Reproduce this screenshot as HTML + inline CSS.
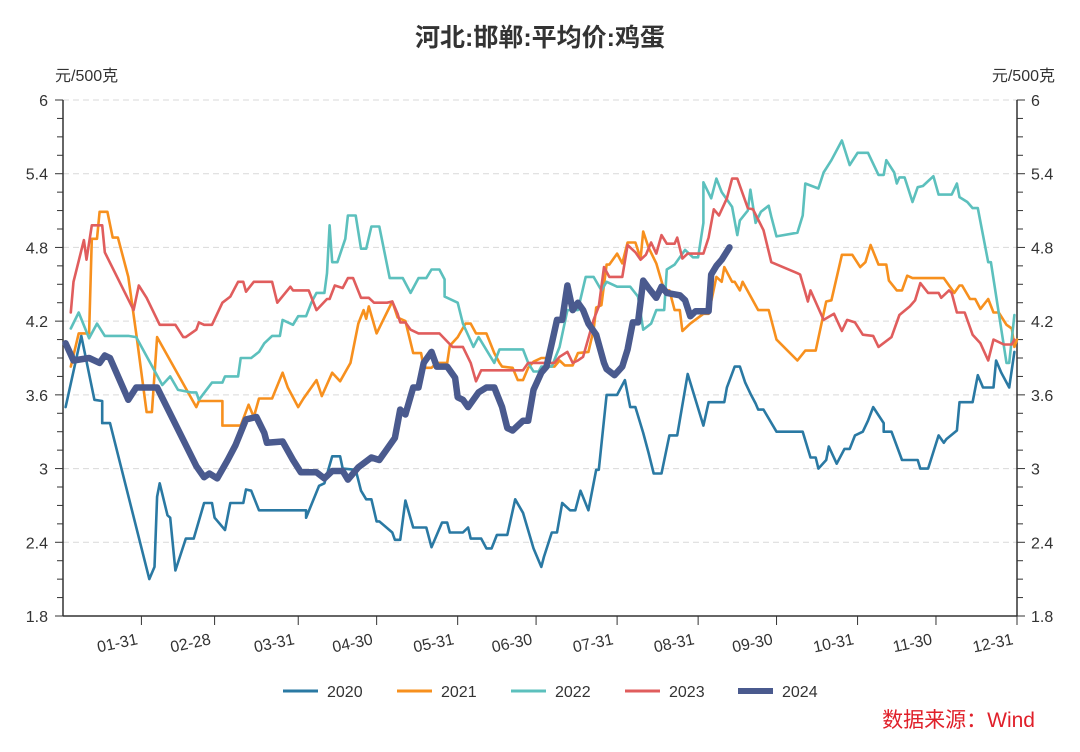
<!DOCTYPE html>
<html><head><meta charset="utf-8">
<style>
body{margin:0;background:#fff;}
svg{display:block;font-family:"Liberation Sans","Noto Sans CJK SC",sans-serif;}
</style></head>
<body>
<svg id="chart" width="1080" height="752"></svg>
<script>
const yearLabels=["2020","2021","2022","2023","2024"];
const yTicks=[1.8,2.4,3,3.6,4.2,4.8,5.4,6];
const xTickDays=[30,58,90,120,151,181,212,243,273,304,334,365];
const xTickLabels=["01-31","02-28","03-31","04-30","05-31","06-30","07-31","08-31","09-30","10-31","11-30","12-31"];

const d2020=[1,7,12,15,15,18,33,35,36,37,40,41,43,47,50,54,57,58,62,64,69,70,72,75,93,93,98,100,103,106,107,112,114,116,118,120,121,126,127,129,131,134,139,141,145,147,148,153,155,156,160,162,164,166,170,173,176,180,183,184,187,189,191,194,196,198,201,204,205,208,212,215,217,219,222,224,226,229,232,235,239,245,247,253,254,257,259,261,263,265,266,268,273,283,286,288,289,292,293,296,299,301,303,306,308,310,314,314,317,321,327,328,331,335,337,338,342,343,348,350,352,356,357,359,362,364];
const v2020=[3.5,4.08,3.56,3.55,3.37,3.37,2.1,2.2,2.77,2.88,2.62,2.6,2.17,2.43,2.43,2.72,2.72,2.6,2.5,2.72,2.72,2.83,2.82,2.66,2.66,2.6,2.86,2.88,3.1,3.1,3.0,2.99,2.82,2.75,2.75,2.57,2.57,2.48,2.42,2.42,2.74,2.52,2.52,2.36,2.56,2.56,2.48,2.48,2.52,2.43,2.43,2.35,2.35,2.46,2.46,2.75,2.64,2.35,2.2,2.28,2.48,2.48,2.72,2.66,2.66,2.82,2.66,2.99,2.99,3.6,3.6,3.72,3.5,3.5,3.29,3.13,2.96,2.96,3.27,3.27,3.77,3.35,3.54,3.54,3.66,3.83,3.83,3.7,3.61,3.53,3.48,3.48,3.3,3.3,3.09,3.09,3.0,3.07,3.18,3.04,3.16,3.16,3.27,3.3,3.39,3.5,3.37,3.3,3.3,3.07,3.07,3.0,3.0,3.27,3.21,3.24,3.31,3.54,3.54,3.76,3.66,3.66,3.88,3.78,3.66,3.95];

const d2021=[3,6,10,11,13,14,17,19,21,25,28,32,34,36,51,52,61,61,68,71,73,75,80,84,86,90,92,97,99,103,106,110,113,115,116,117,120,126,128,131,134,137,138,141,143,147,148,151,154,156,158,162,165,167,168,172,174,176,178,180,183,185,186,188,190,192,195,197,201,203,204,206,208,209,212,214,216,219,221,222,224,227,230,232,234,236,237,240,245,247,250,252,253,256,257,259,260,266,270,273,281,284,288,292,294,298,302,305,307,309,312,315,316,319,321,323,325,328,337,341,343,344,347,349,351,354,356,358,361,363,364,365];
const v2021=[3.83,4.1,4.1,4.87,4.87,5.09,5.09,4.88,4.88,4.56,4.1,3.46,3.46,4.07,3.5,3.55,3.55,3.35,3.35,3.52,3.42,3.57,3.57,3.78,3.66,3.5,3.57,3.72,3.59,3.78,3.71,3.86,4.18,4.29,4.22,4.32,4.1,4.36,4.23,4.2,3.94,3.94,3.82,3.82,3.86,3.86,4.0,4.07,4.18,4.18,4.1,4.1,3.94,3.86,3.83,3.82,3.72,3.72,3.82,3.87,3.9,3.9,3.83,3.83,3.88,3.84,3.84,3.94,3.95,4.13,4.31,4.33,4.66,4.66,4.75,4.67,4.84,4.84,4.71,4.93,4.8,4.67,4.45,4.45,4.29,4.29,4.12,4.18,4.26,4.26,4.56,4.52,4.64,4.52,4.52,4.45,4.52,4.29,4.29,4.05,3.88,3.96,3.96,4.36,4.37,4.74,4.74,4.64,4.68,4.82,4.66,4.66,4.53,4.45,4.45,4.57,4.55,4.55,4.55,4.43,4.49,4.49,4.38,4.38,4.3,4.38,4.27,4.27,4.17,4.14,3.99,4.05];

const d2022=[3,6,10,13,16,23,25,28,38,41,44,49,51,52,57,61,62,67,68,72,75,77,80,83,84,88,90,93,95,97,100,101,102,103,105,108,109,112,114,116,118,119,121,125,130,133,136,139,141,144,146,146,151,153,157,159,165,167,176,178,180,182,183,187,190,193,197,200,203,206,208,212,217,220,222,225,227,230,231,234,238,241,243,245,245,248,250,252,256,258,259,262,263,265,267,270,271,273,281,283,284,289,291,294,298,301,304,308,312,314,315,318,319,320,322,325,327,329,333,335,340,342,343,346,348,350,354,355,361,362,364];
const v2022=[4.14,4.27,4.06,4.18,4.08,4.08,4.08,4.07,3.68,3.75,3.64,3.62,3.62,3.56,3.7,3.7,3.75,3.75,3.9,3.9,3.95,4.02,4.08,4.08,4.21,4.17,4.24,4.24,4.35,4.43,4.43,4.59,4.98,4.68,4.68,4.87,5.06,5.06,4.79,4.79,4.97,4.97,4.97,4.55,4.55,4.43,4.55,4.55,4.62,4.62,4.54,4.4,4.35,4.18,3.99,4.07,3.86,3.97,3.97,3.86,3.79,3.79,3.83,3.83,3.99,4.29,4.29,4.56,4.56,4.45,4.52,4.48,4.48,4.4,4.13,4.18,4.29,4.29,4.62,4.66,4.78,4.72,4.72,5.0,5.33,5.2,5.36,5.25,5.13,4.9,5.02,5.1,5.27,5.0,5.09,5.14,5.05,4.89,4.92,5.06,5.32,5.28,5.41,5.51,5.67,5.47,5.57,5.57,5.39,5.39,5.51,5.41,5.32,5.37,5.37,5.17,5.29,5.3,5.38,5.23,5.23,5.32,5.21,5.17,5.12,5.12,4.68,4.68,3.86,3.86,4.25];

const d2023=[3,4,8,9,11,15,16,27,29,32,37,43,46,47,51,52,54,57,61,64,67,69,70,73,80,82,87,88,94,97,101,102,104,107,109,111,114,117,119,124,126,128,129,131,133,136,144,149,153,156,158,160,172,176,178,188,190,193,195,197,199,203,205,207,209,214,216,219,221,223,225,227,229,231,234,235,237,239,244,245,247,249,251,254,256,258,262,264,268,271,281,282,285,286,291,295,298,300,303,306,310,312,317,320,324,326,328,331,335,336,339,340,342,345,348,351,354,356,360,363,364];
const v2023=[4.27,4.52,4.86,4.7,4.98,4.98,4.76,4.29,4.49,4.39,4.17,4.17,4.07,4.07,4.13,4.19,4.17,4.17,4.35,4.4,4.52,4.52,4.44,4.52,4.52,4.35,4.48,4.45,4.45,4.29,4.38,4.38,4.49,4.47,4.55,4.55,4.39,4.39,4.35,4.35,4.36,4.26,4.19,4.19,4.13,4.1,4.1,3.99,3.99,3.86,3.71,3.8,3.8,3.8,3.86,3.86,3.91,3.95,3.86,3.88,3.91,4.21,4.32,4.64,4.56,4.56,4.82,4.76,4.7,4.74,4.84,4.75,4.9,4.83,4.83,4.88,4.71,4.75,4.75,4.75,4.88,5.11,5.06,5.2,5.36,5.36,5.12,5.11,4.94,4.68,4.59,4.58,4.36,4.45,4.21,4.26,4.12,4.21,4.19,4.09,4.08,3.99,4.07,4.25,4.32,4.37,4.51,4.43,4.43,4.39,4.45,4.43,4.27,4.27,4.09,4.02,3.88,4.05,4.01,4.01,4.05];

const d2024=[1,4,10,14,16,18,25,28,36,51,54,56,59,63,66,70,74,77,78,84,88,91,97,100,103,107,109,113,118,121,127,129,131,134,136,138,141,143,147,150,151,153,155,159,162,165,168,170,172,176,178,180,183,185,187,189,191,193,195,197,199,201,204,207,208,211,214,216,218,220,222,224,227,229,231,236,238,240,242,244,247,248,250,252,255];
const v2024=[4.02,3.88,3.9,3.86,3.92,3.9,3.56,3.66,3.66,3.02,2.93,2.96,2.92,3.07,3.19,3.4,3.42,3.29,3.21,3.22,3.07,2.97,2.97,2.92,2.98,2.98,2.91,3.01,3.09,3.07,3.25,3.48,3.44,3.66,3.66,3.86,3.95,3.83,3.83,3.74,3.58,3.56,3.5,3.62,3.66,3.66,3.5,3.33,3.31,3.39,3.39,3.64,3.78,3.83,4.02,4.21,4.21,4.49,4.29,4.35,4.29,4.18,4.09,3.86,3.81,3.76,3.83,3.97,4.19,4.19,4.53,4.47,4.39,4.48,4.43,4.41,4.37,4.24,4.28,4.28,4.28,4.58,4.65,4.7,4.8];

const days=[d2020,d2021,d2022,d2023,d2024];
const vals=[v2020,v2021,v2022,v2023,v2024];
const colors=["#2a79a3","#f7901e","#5cc0bd","#e05d5d","#4a5a8e"];
const widths=[2.6,2.6,2.6,2.6,6.5];

const NS="http://www.w3.org/2000/svg";
const svg=document.getElementById("chart");
const L=63,R=1017,T=100,B=616;
const xS=d=>L+d*(R-L)/365;
const yS=v=>B-(v-1.8)*(B-T)/4.2;
function mk(tag,attrs,parent){const e=document.createElementNS(NS,tag);for(const k in attrs)e.setAttribute(k,attrs[k]);(parent||svg).appendChild(e);return e;}

let t=mk("text",{x:540,y:46,"text-anchor":"middle","font-size":25,"font-weight":"bold",fill:"#333"});
t.textContent="河北:邯郸:平均价:鸡蛋";


t=mk("text",{x:55,y:81,"text-anchor":"start","font-size":16,fill:"#333"});t.textContent="元/500克";


t=mk("text",{x:1055,y:81,"text-anchor":"end","font-size":16,fill:"#333"});t.textContent="元/500克";



yTicks.forEach(v=>{
  const y=yS(v);
  if(v>1.8){const g=mk("line",{x1:L,x2:R,y1:y,y2:y,stroke:"#d9d9d9","stroke-dasharray":"6,4","stroke-width":1});
  
  }
  const a=mk("text",{x:48,y:y+6,"text-anchor":"end","font-size":16,fill:"#333"});a.textContent=String(v);
  
  
  const b=mk("text",{x:1031,y:y+6,"text-anchor":"start","font-size":16,fill:"#333"});b.textContent=String(v);
  
  
});
for(let i=0;i<=28;i++){const v=1.8+i*0.15;const y=yS(v);const len=(i%4===0)?8:6;
  mk("line",{x1:L-len,x2:L,y1:y,y2:y,stroke:"#333","stroke-width":1});
  mk("line",{x1:R,x2:R+len,y1:y,y2:y,stroke:"#333","stroke-width":1});}
let ax=mk("line",{x1:L,x2:L,y1:T,y2:B,stroke:"#333","stroke-width":1.5});


ax=mk("line",{x1:R,x2:R,y1:T,y2:B,stroke:"#333","stroke-width":1.5});


ax=mk("line",{x1:L,x2:R,y1:B,y2:B,stroke:"#333","stroke-width":1.5});


xTickDays.forEach((d,i)=>{
  const x=xS(d);
  mk("line",{x1:x,x2:x,y1:B,y2:B+9,stroke:"#333","stroke-width":1});
  const l=mk("text",{x:x-3,y:B+28,"text-anchor":"end","font-size":16,fill:"#333",transform:`rotate(-12 ${x-3} ${B+28})`});
  l.textContent=xTickLabels[i];
  
  
});

days.forEach((ds,s)=>{
  const pts=ds.map((d,i)=>xS(d).toFixed(1)+","+yS(vals[s][i]).toFixed(1)).join(" ");
  const p=mk("polyline",{points:pts,fill:"none",stroke:colors[s],"stroke-width":widths[s],"stroke-linejoin":"round","stroke-linecap":"round"});
  
  
});

const lx=[283,397,511,625,738];
yearLabels.forEach((lab,i)=>{
  const g=mk("g",{});
  
  
  mk("line",{x1:lx[i],x2:lx[i]+35,y1:691,y2:691,stroke:colors[i],"stroke-width":i===4?6:3},g);
  const tt=mk("text",{x:lx[i]+44,y:697,"font-size":16,fill:"#333"},g);tt.textContent=lab;
});
t=mk("text",{x:1035,y:727,"text-anchor":"end","font-size":21,fill:"#e0202a"});t.textContent="数据来源：Wind";


</script>
</body></html>
